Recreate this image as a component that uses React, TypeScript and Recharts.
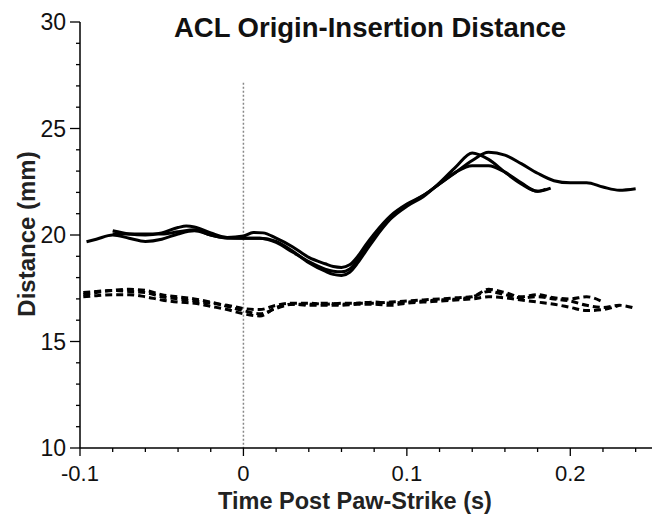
import React from 'react';
import { LineChart, Line, XAxis, YAxis, ReferenceLine } from 'recharts';

const TITLE = 'ACL Origin-Insertion Distance';
const X_TITLE = 'Time Post Paw-Strike (s)';
const Y_TITLE = 'Distance (mm)';

const xMajorTicks = [-0.1, 0, 0.1, 0.2];
const xMajorLabels = ['-0.1', '0', '0.1', '0.2'];
const xAllTicks = [-0.1, -0.08, -0.06, -0.04, -0.02, 0, 0.02, 0.04, 0.06, 0.08, 0.1, 0.12, 0.14, 0.16, 0.18, 0.2, 0.22, 0.24];
const yMajorTicks = [10, 15, 20, 25, 30];
const yMajorLabels = ['10', '15', '20', '25', '30'];
const yAllTicks = [10, 11, 12, 13, 14, 15, 16, 17, 18, 19, 20, 21, 22, 23, 24, 25, 26, 27, 28, 29, 30];

// Solid traces (time s, distance mm)
const solidA: [number, number][] = [
  [-0.096, 19.68], [-0.09, 19.8], [-0.08, 20.0], [-0.07, 19.85], [-0.06, 19.7], [-0.05, 19.8], [-0.04, 20.05],
  [-0.03, 20.2], [-0.02, 20.0], [-0.01, 19.85], [0, 19.85], [0.01, 19.85], [0.02, 19.65], [0.03, 19.2],
  [0.04, 18.75], [0.05, 18.4], [0.055, 18.3], [0.06, 18.27], [0.065, 18.4], [0.07, 18.85], [0.075, 19.4],
  [0.08, 19.9], [0.09, 20.8], [0.1, 21.4], [0.11, 21.85], [0.12, 22.4], [0.13, 22.95], [0.14, 23.5],
  [0.15, 23.88], [0.16, 23.75], [0.17, 23.35], [0.18, 22.9], [0.19, 22.55], [0.2, 22.45], [0.21, 22.45],
  [0.22, 22.25], [0.23, 22.1], [0.24, 22.17],
];
const solidB: [number, number][] = [
  [-0.08, 20.2], [-0.07, 20.05], [-0.06, 20.0], [-0.05, 20.1], [-0.04, 20.35], [-0.035, 20.42], [-0.03, 20.38],
  [-0.02, 20.1], [-0.01, 19.88], [0, 19.85], [0.01, 19.85], [0.02, 19.7], [0.03, 19.25], [0.04, 18.7],
  [0.05, 18.3], [0.055, 18.15], [0.06, 18.1], [0.065, 18.25], [0.07, 18.7], [0.075, 19.25], [0.08, 19.8],
  [0.09, 20.75], [0.1, 21.35], [0.11, 21.8], [0.12, 22.45], [0.13, 23.2], [0.14, 23.85], [0.15, 23.55],
  [0.16, 22.95], [0.17, 22.4], [0.18, 22.05], [0.188, 22.2],
];
const solidC: [number, number][] = [
  [-0.08, 20.05], [-0.07, 20.05], [-0.06, 20.05], [-0.05, 20.05], [-0.04, 20.15], [-0.03, 20.25], [-0.02, 20.0],
  [-0.01, 19.88], [0, 19.95], [0.006, 20.12], [0.012, 20.1], [0.02, 19.85], [0.03, 19.45], [0.04, 18.95],
  [0.05, 18.65], [0.055, 18.52], [0.06, 18.48], [0.065, 18.6], [0.07, 19.0], [0.075, 19.55], [0.08, 20.05],
  [0.09, 20.9], [0.1, 21.45], [0.11, 21.85], [0.12, 22.4], [0.13, 22.95], [0.14, 23.25], [0.15, 23.25],
  [0.16, 22.95], [0.17, 22.45], [0.18, 22.05], [0.185, 22.15],
];

// Dashed traces
const dashedA: [number, number][] = [
  [-0.098, 17.2], [-0.09, 17.3], [-0.08, 17.4], [-0.07, 17.45], [-0.06, 17.4], [-0.05, 17.2], [-0.04, 17.1],
  [-0.03, 17.0], [-0.02, 16.85], [-0.01, 16.65], [0, 16.45], [0.01, 16.3], [0.02, 16.55], [0.03, 16.75],
  [0.04, 16.75], [0.05, 16.8], [0.06, 16.75], [0.07, 16.8], [0.08, 16.85], [0.09, 16.8], [0.1, 16.85],
  [0.11, 16.9], [0.12, 16.95], [0.13, 17.0], [0.14, 17.1], [0.15, 17.35], [0.16, 17.2], [0.17, 17.05],
  [0.18, 17.1], [0.19, 17.0], [0.2, 16.9], [0.21, 16.7], [0.22, 16.6], [0.23, 16.7], [0.24, 16.55],
];
const dashedB: [number, number][] = [
  [-0.098, 17.1], [-0.09, 17.15], [-0.08, 17.2], [-0.07, 17.2], [-0.06, 17.1], [-0.05, 16.95], [-0.04, 16.85],
  [-0.03, 16.8], [-0.02, 16.65], [-0.01, 16.5], [0, 16.3], [0.01, 16.2], [0.02, 16.6], [0.03, 16.75],
  [0.04, 16.7], [0.05, 16.7], [0.06, 16.7], [0.07, 16.75], [0.08, 16.75], [0.09, 16.7], [0.1, 16.8],
  [0.11, 16.85], [0.12, 16.9], [0.13, 16.95], [0.14, 17.0], [0.15, 17.1], [0.16, 17.05], [0.17, 16.95],
  [0.18, 16.85], [0.19, 16.75], [0.2, 16.6], [0.21, 16.45], [0.22, 16.5], [0.23, 16.7],
];
const dashedC: [number, number][] = [
  [-0.098, 17.3], [-0.09, 17.35], [-0.08, 17.4], [-0.07, 17.35], [-0.06, 17.3], [-0.05, 17.1], [-0.04, 17.0],
  [-0.03, 16.9], [-0.02, 16.8], [-0.01, 16.7], [0, 16.55], [0.01, 16.5], [0.02, 16.7], [0.03, 16.8],
  [0.04, 16.8], [0.05, 16.75], [0.06, 16.8], [0.07, 16.8], [0.08, 16.8], [0.09, 16.85], [0.1, 16.9],
  [0.11, 16.95], [0.12, 17.0], [0.13, 17.05], [0.14, 17.1], [0.15, 17.45], [0.16, 17.3], [0.17, 17.1],
  [0.18, 17.2], [0.19, 17.05], [0.2, 17.0], [0.21, 17.1], [0.22, 16.85],
];

const toRows = (arr: [number, number][]) => arr.map(([t, v]) => ({ t, v }));

const solidSeries = [solidA, solidB, solidC];
const dashedSeries = [dashedA, dashedB, dashedC];

const FONT = '"Liberation Sans", Arial, Helvetica, sans-serif';

const isIn = (v: number, arr: number[]) => arr.findIndex((m) => Math.abs(m - v) < 1e-6);

const XTick = (props: any) => {
  const { x, y, payload } = props;
  const idx = isIn(payload.value, xMajorTicks);
  const major = idx >= 0;
  return (
    <g>
      <line x1={x} x2={x} y1={y} y2={y + (major ? 8 : 4)} stroke="#000" strokeWidth={1.3} />
      {major && (
        <text x={x} y={y + 33} textAnchor="middle" fontSize={22} fontFamily={FONT} fill="#111">
          {xMajorLabels[idx]}
        </text>
      )}
    </g>
  );
};

const YTick = (props: any) => {
  const { x, y, payload } = props;
  const idx = isIn(payload.value, yMajorTicks);
  const major = idx >= 0;
  return (
    <g>
      <line x1={x} x2={x - (major ? 10 : 4)} y1={y} y2={y} stroke="#000" strokeWidth={1.3} />
      {major && (
        <text x={x - 14} y={y + 8} textAnchor="end" fontSize={23} fontFamily={FONT} fill="#111">
          {yMajorLabels[idx]}
        </text>
      )}
    </g>
  );
};

export default function App() {
  return (
    <div style={{ position: 'absolute', left: 0, top: 0, width: 652, height: 515, background: '#fff' }}>
      <LineChart width={652} height={515} margin={{ top: 22, right: 0, bottom: 0, left: 0 }}>
        <XAxis
          type="number"
          dataKey="t"
          domain={[-0.1, 0.25]}
          ticks={xAllTicks}
          interval={0}
          allowDataOverflow
          height={67}
          tickSize={0}
          tickMargin={0}
          tickLine={false}
          tick={<XTick />}
          axisLine={{ stroke: '#000', strokeWidth: 1.5 }}
        />
        <YAxis
          type="number"
          dataKey="v"
          domain={[10, 30]}
          ticks={yAllTicks}
          interval={0}
          allowDataOverflow
          width={80}
          tickSize={0}
          tickMargin={0}
          tickLine={false}
          tick={<YTick />}
          axisLine={{ stroke: '#000', strokeWidth: 1.5 }}
        />
        <ReferenceLine
          segment={[{ x: 0, y: 27.15 }, { x: 0, y: 10 }]}
          stroke="#888"
          strokeWidth={1.5}
          strokeDasharray="2 2"
        />
        {dashedSeries.map((s, i) => (
          <Line
            key={'d' + i}
            data={toRows(s)}
            dataKey="v"
            type="monotone"
            stroke="#000"
            strokeWidth={3}
            strokeDasharray="7 4"
            dot={false}
            isAnimationActive={false}
          />
        ))}
        {solidSeries.map((s, i) => (
          <Line
            key={'s' + i}
            data={toRows(s)}
            dataKey="v"
            type="monotone"
            stroke="#000"
            strokeWidth={3}
            dot={false}
            isAnimationActive={false}
          />
        ))}
      </LineChart>
      <svg width={652} height={515} style={{ position: 'absolute', left: 0, top: 0, pointerEvents: 'none' }}>
        <text x={370} y={37} textAnchor="middle" fontSize={27.5} fontWeight="bold" fontFamily={FONT} fill="#111">
          {TITLE}
        </text>
        <text x={355} y={509} textAnchor="middle" fontSize={23.5} fontWeight="bold" fontFamily={FONT} fill="#222">
          {X_TITLE}
        </text>
        <text
          x={35}
          y={234}
          transform="rotate(-90 35 234)"
          textAnchor="middle"
          fontSize={24}
          fontWeight="bold"
          fontFamily={FONT}
          fill="#222"
        >
          {Y_TITLE}
        </text>
      </svg>
    </div>
  );
}
